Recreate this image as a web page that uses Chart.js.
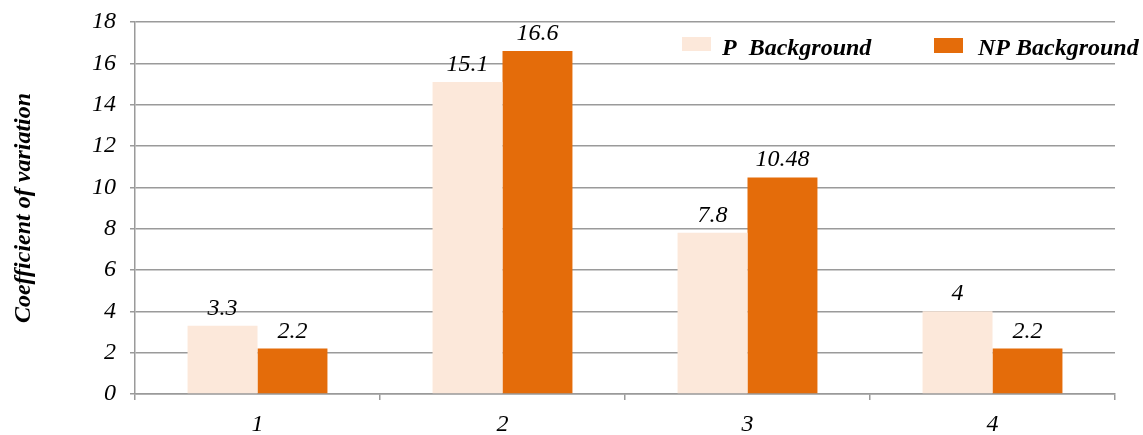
<!DOCTYPE html>
<html>
<head>
<meta charset="utf-8">
<script src="https://cdn.jsdelivr.net/npm/chart.js@4/dist/chart.umd.min.js"></script>
<style>
  html, body { margin: 0; padding: 0; background: #fff; }
  #wrap { width: 1143px; height: 435px; }
</style>
</head>
<body>
<div id="wrap"><canvas id="c" width="1143" height="435"></canvas></div>
<script>
// Chart data
const categories = ['1', '2', '3', '4'];
const seriesNames = ['P  Background', 'NP Background'];
const pBackground = [3.3, 15.1, 7.8, 4];
const npBackground = [2.2, 16.6, 10.48, 2.2];
const yTicks = [0, 2, 4, 6, 8, 10, 12, 14, 16, 18];
const yTitle = 'Coefficient of variation';

const colors = ['#FCE8DA', '#E46C0A'];
const gridColor = '#9a9a9a';
const serif = "'Liberation Serif', 'Times New Roman', serif";

// Value labels above each bar
const valueLabels = {
  id: 'valueLabels',
  afterDatasetsDraw(chart) {
    const ctx = chart.ctx;
    ctx.save();
    ctx.font = 'italic 24px ' + serif;
    ctx.fillStyle = '#000';
    ctx.textAlign = 'center';
    ctx.textBaseline = 'alphabetic';
    chart.data.datasets.forEach((ds, di) => {
      const meta = chart.getDatasetMeta(di);
      meta.data.forEach((bar, i) => {
        ctx.fillText(String(ds.data[i]), bar.x, bar.y - 11);
      });
    });
    ctx.restore();
  }
};

// Legend drawn inside the plot, top right
const insideLegend = {
  id: 'insideLegend',
  afterDraw(chart) {
    const ctx = chart.ctx;
    const items = [
      { box: [682, 37, 29, 14], textX: 722 },
      { box: [934, 38, 29, 15], textX: 978 }
    ];
    ctx.save();
    ctx.font = 'bold italic 24px ' + serif;
    ctx.textBaseline = 'alphabetic';
    ctx.textAlign = 'left';
    chart.data.datasets.forEach((ds, i) => {
      const it = items[i];
      ctx.fillStyle = ds.backgroundColor;
      ctx.fillRect(it.box[0], it.box[1], it.box[2], it.box[3]);
      ctx.fillStyle = '#000';
      ctx.fillText(ds.label, it.textX, 55);
    });
    ctx.restore();
  }
};

new Chart(document.getElementById('c'), {
  type: 'bar',
  data: {
    labels: categories,
    datasets: [
      { label: seriesNames[0], data: pBackground, backgroundColor: colors[0] },
      { label: seriesNames[1], data: npBackground, backgroundColor: colors[1] }
    ]
  },
  options: {
    responsive: false,
    animation: false,
    devicePixelRatio: 1,
    layout: { padding: { top: 22, right: 28, left: 0, bottom: 0 } },
    datasets: { bar: { categoryPercentage: 0.571, barPercentage: 1.0 } },
    plugins: {
      legend: { display: false },
      tooltip: { enabled: false }
    },
    scales: {
      x: {
        grid: { offset: true, drawOnChartArea: false, drawTicks: true, tickLength: 6, color: gridColor, lineWidth: 1.5 },
        border: { color: gridColor, width: 1.5 },
        ticks: { color: '#000', font: { family: serif, size: 24, style: 'italic' }, padding: 10 },
        afterFit(scale) { scale.height = 41; scale.paddingLeft = 0; scale.paddingRight = 0; }
      },
      y: {
        min: 0,
        max: 18,
        afterBuildTicks(scale) { scale.ticks = yTicks.map(v => ({ value: v })); },
        grid: { color: gridColor, lineWidth: 1.5, tickLength: 5 },
        border: { color: gridColor, width: 1.5 },
        ticks: { color: '#000', font: { family: serif, size: 24, style: 'italic' }, padding: 14 },
        title: {
          display: true,
          text: yTitle,
          color: '#000',
          font: { family: serif, size: 24, style: 'italic', weight: 'bold' },
          padding: { top: 9, bottom: 0 }
        },
        afterFit(scale) { scale.width = 135; scale.paddingTop = 0; scale.paddingBottom = 0; }
      }
    }
  },
  plugins: [valueLabels, insideLegend]
});
</script>
</body>
</html>
